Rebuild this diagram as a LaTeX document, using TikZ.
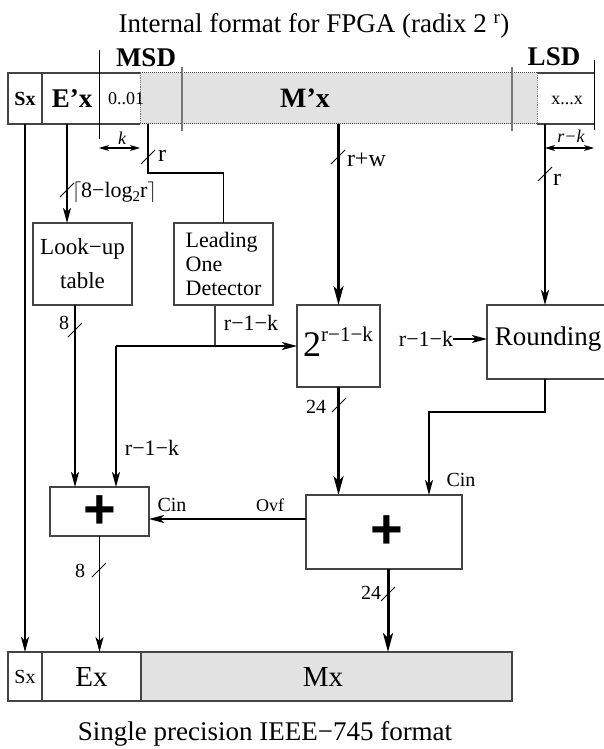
\documentclass[tikz,border=0pt]{standalone}
\usepackage{fontspec}
\setmainfont{Liberation Serif}
\setsansfont{Liberation Sans}
\usetikzlibrary{arrows.meta}
\definecolor{mgray}{HTML}{E2E2E2}
\definecolor{edge}{HTML}{444444}
\definecolor{sep}{HTML}{777777}
\newcommand{\fs}[1]{\fontsize{#1}{#1}\selectfont}
\begin{document}
\begin{tikzpicture}[x=1pt,y=-1pt,
  every node/.style={inner sep=0pt, outer sep=0pt},
  box/.style={draw=edge, line width=1.2pt, fill=white},
  wire/.style={line width=1.1pt},
  thickwire/.style={line width=3pt},
  arr/.style={-{Stealth[length=15pt,width=8pt,inset=4pt]}},
  tarr/.style={-{Stealth[length=19pt,width=10pt,inset=5pt]}},
  darr/.style={{Stealth[length=10pt,width=6pt,inset=3pt]}-{Stealth[length=10pt,width=6pt,inset=3pt]}},
  slash/.style={line width=0.8pt},
  lbl/.style={font=\fs{20}},
  plus/.style={font=\sffamily\bfseries\fs{56}}
]
\useasboundingbox (0,0) rectangle (604,749);

% title
\node[font=\fs{27}, anchor=base] (title) at (314,33) {Internal format for FPGA (radix 2 \textsuperscript{r})};

% ---------- top register ----------
\fill[mgray] (140,73) rectangle (537,124);
\draw[edge, line width=1.2pt] (140,73) -- (8,73) -- (8,124) -- (140,124);
\draw[edge, line width=1.2pt] (537,73) -- (594,73) (537,124) -- (594,124);
\draw[edge, densely dotted, line width=1pt] (140,73) -- (537,73) (140,124) -- (537,124);
\draw[sep, densely dotted, line width=0.8pt] (140,73) -- (140,124) (537,73) -- (537,124);
\draw[edge, line width=1.2pt] (42,73) -- (42,124);
\draw[black, line width=1pt] (99,50) -- (99,139);
\draw[sep, line width=1.5pt] (182,67) -- (182,131) (512,67) -- (512,131);
\draw[black, line width=1pt] (594,60) -- (594,130);

\node[minimum width=34, minimum height=51, font=\bfseries\fs{20}] (sxT) at (25,98.5) {Sx};
\node[minimum width=57, minimum height=51, font=\bfseries\fs{27}] (exT) at (72,98.5) {E’x};
\node[font=\fs{18}] (zeroT) at (126,99) {0..01};
\node[font=\bfseries\fs{28}] (mxT) at (305,98) {M’x};
\node[font=\fs{18}] (xxT) at (567,100) {x...x};
\node[font=\bfseries\fs{27}] (msd) at (146,58) {MSD};
\node[font=\bfseries\fs{27}] (lsd) at (554,57) {LSD};

% k and r-k
\coordinate (kL) at (99,148);
\coordinate (kR) at (140,148);
\draw[wire, darr] (kL) -- (kR);
\node[font=\itshape\fs{18}] (klbl) at (122,138) {k};
\coordinate (rkL) at (545,148);
\coordinate (rkR) at (594,148);
\draw[wire, darr] (rkL) -- (rkR);
\node[font=\itshape\fs{18}] (rklbl) at (571,136) {r−k};

% ports
\coordinate (eport) at (67,124);
\coordinate (rport) at (148,124);
\coordinate (mport) at (338.5,124);
\coordinate (lport) at (545,124);

% ---------- blocks ----------
\node[box, minimum width=99, minimum height=82, align=center, font=\fontsize{23}{34}\selectfont] (lut) at (82.5,264) {Look−up\\table};
\node[box, minimum width=99, minimum height=82, align=left, font=\fontsize{22}{24}\selectfont] (lod) at (223.5,264) {Leading\\One\\Detector};
\node[box, minimum width=83, minimum height=82] (pow) at (338.5,346) {};
\node[font=\fs{36}] (powtxt) at (338,342) {2\raisebox{15pt}{\fs{21}r−1−k}};
\node[box, minimum width=140, minimum height=74] (rnd) at (557,342) {};
\node[font=\fs{27}] (rndtxt) at (548,339) {Rounding};
\node[box, minimum width=99, minimum height=49] (addS) at (99.5,511.5) {};
\node[plus] (plusS) at (99.5,512) {+};
\node[box, minimum width=156, minimum height=74] (addB) at (384,532) {};
\node[plus] (plusB) at (387,532) {+};

% ---------- bottom register ----------
\node[box, minimum width=34, minimum height=49, font=\fs{20}] (sxB) at (25,676.5) {Sx};
\node[box, minimum width=99, minimum height=49, font=\fs{29}] (exB) at (91.5,676.5) {Ex};
\node[box, fill=mgray, minimum width=371, minimum height=49] (mxB) at (326.5,676.5) {};
\node[font=\fs{29}] (mxtxt) at (323,676.5) {Mx};
\node[font=\fs{27}, anchor=base] (bottitle) at (265,740) {Single precision IEEE−745 format};

% ---------- connectors ----------
\draw[wire, arr] (sxT.south) -- (sxB.north);
\draw[wire, arr] (eport) -- (eport |- lut.north);
\draw[wire] (rport) -- (148,173) -| (lod.north);
\draw[thickwire, tarr] (mport) -- (pow.north);
\draw[wire, arr] (lport) -- (lport |- rnd.north);

\draw[wire, arr] ([xshift=-7.5pt]lut.south) -- ([xshift=-7.5pt]lut.south |- addS.north);
\coordinate (j1) at (215,346);
\coordinate (j2) at (116,346);
\draw[wire, edge] (j1 |- lod.south) -- (j1);
\draw[wire, arr] (j2) -- (pow.west);
\draw[wire, arr] (j2) -- (j2 |- addS.north);

\node[font=\fs{22}] (rlbl) at (426,339) {r−1−k};
\draw[wire, arr] (rlbl.east) -- (rlbl.east -| rnd.west);

\draw[thickwire, tarr] (pow.south) -- (pow.south |- addB.north);
\draw[wire, arr] (lport |- rnd.south) -- ++(0,33) -| ([xshift=45pt]addB.north);
\draw[wire, arr] ([yshift=13pt]addB.west) -- ([yshift=13pt]addB.west -| addS.east);
\draw[wire, arr] (addS.south) -- (addS.south |- exB.north);
\draw[thickwire, tarr] ([xshift=4pt]addB.south) -- ([xshift=4pt]addB.south |- mxB.north);

% ---------- slashes and labels ----------
\draw[slash] (60,197) -- (74,183);
\node[font=\fs{22}, anchor=west] (ceil) at (72,192) {$\lceil$8−log\raisebox{-4pt}{\fs{15}2}r$\rceil$};
\draw[slash] (141,164) -- (155,150);
\node[font=\fs{24}, anchor=west] (rlab1) at (158,156) {r};
\draw[slash] (331,164) -- (345,150);
\node[font=\fs{24}, anchor=west] (rwlab) at (347,160) {r+w};
\draw[slash] (538,181) -- (552,167);
\node[font=\fs{24}, anchor=west] (rlab2) at (553,180) {r};

\draw[slash] (68,337) -- (82,323);
\node[lbl] (l8a) at (64,323) {8};
\node[font=\fs{22}] (lodlbl) at (251,323) {r−1−k};
\node[font=\fs{22}] (addlbl) at (152,448) {r−1−k};
\draw[slash] (332,412) -- (346,398);
\node[lbl] (l24a) at (316,407) {24};

\node[lbl] (cinB) at (461,480) {Cin};
\node[font=\fs{20}] (cinS) at (172,505) {Cin};
\node[font=\fs{18}] (ovf) at (270,505) {Ovf};

\draw[slash] (92,577) -- (106,563);
\node[lbl] (l8b) at (80,571) {8};
\draw[slash] (381,601) -- (395,587);
\node[lbl] (l24b) at (371,593) {24};
\end{tikzpicture}
\end{document}
